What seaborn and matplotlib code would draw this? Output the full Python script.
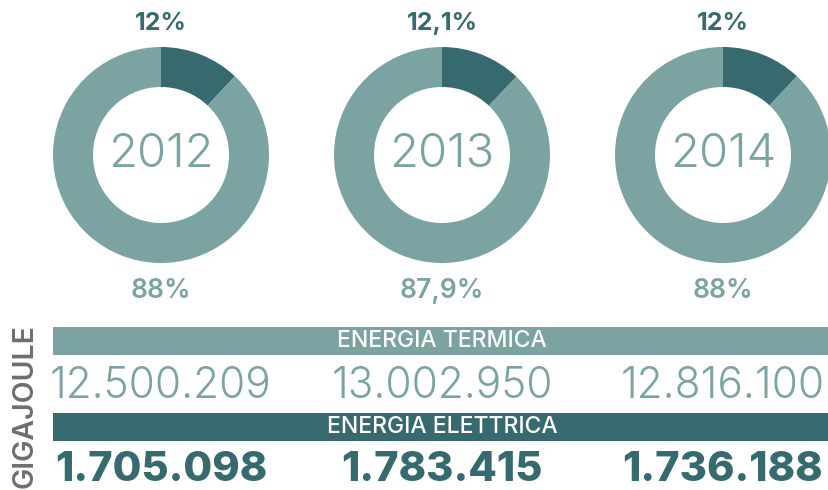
import matplotlib
matplotlib.use("Agg")
import matplotlib.pyplot as plt
import seaborn as sns

years = ["2012", "2013", "2014"]
pct_elettrica = [12.0, 12.1, 12.0]
pct_termica = [88.0, 87.9, 88.0]
pct_top_labels = ["12%", "12,1%", "12%"]
pct_bottom_labels = ["88%", "87,9%", "88%"]
termica_gj = ["12.500.209", "13.002.950", "12.816.100"]
elettrica_gj = ["1.705.098", "1.783.415", "1.736.188"]

sns.set_theme(style="white")
plt.rcParams["font.family"] = ["Inter", "DejaVu Sans"]

light, dark = "#7BA3A1", "#366A6E"
W, H = 829, 490

fig = plt.figure(figsize=(W / 100, H / 100), dpi=100)
ax = fig.add_axes([0, 0, 1, 1])

centers = [161, 442, 723]
cy = H - 155
R = 108

for cx, yr, pe, pt, top, bot in zip(centers, years, pct_elettrica, pct_termica,
                                    pct_top_labels, pct_bottom_labels):
    ax.pie([pe, pt], colors=[dark, light], startangle=90, counterclock=False,
           center=(cx, cy), radius=R, frame=True,
           wedgeprops=dict(width=40, linewidth=0))
    ax.text(cx, cy, yr, ha="center", va="center", color=light,
            fontsize=34, fontweight=300)
    ax.text(cx, H - 24, top, ha="center", va="center", color=dark,
            fontsize=18, fontweight="bold")
    ax.text(cx, H - 291, bot, ha="center", va="center", color=light,
            fontsize=19, fontweight="semibold")

# bands
ax.barh(H - 341, W - 53, height=28, left=53, color=light, linewidth=0)
ax.barh(H - 427, W - 53, height=28, left=53, color=dark, linewidth=0)
ax.text(442, H - 341, "ENERGIA TERMICA", ha="center", va="center",
        color="white", fontsize=16.5, fontweight="medium")
ax.text(442, H - 427, "ENERGIA ELETTRICA", ha="center", va="center",
        color="white", fontsize=16.5, fontweight="medium")

for cx, t, e in zip(centers, termica_gj, elettrica_gj):
    ax.text(cx, H - 386, t, ha="center", va="center", color=light,
            fontsize=30.5, fontweight=300)
    ax.text(cx, H - 470, e, ha="center", va="center", color=dark,
            fontsize=30, fontweight="heavy")

ax.text(25, H - 406, "GIGAJOULE", ha="center", va="center", rotation=90,
        color="#6E6E6E", fontsize=20.5, fontweight="semibold")

ax.set_xlim(0, W)
ax.set_ylim(0, H)
ax.set_aspect("auto")
ax.axis("off")

fig.savefig("out.png", dpi=100)
